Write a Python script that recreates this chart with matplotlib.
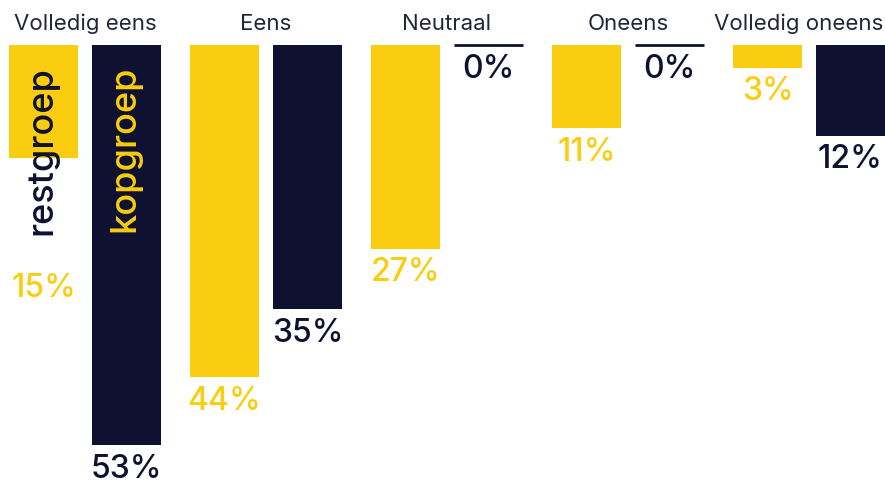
import matplotlib
matplotlib.use("Agg")
from matplotlib import pyplot as plt
import numpy as np

plt.rcParams['font.family'] = ['Inter', 'DejaVu Sans']

categories = ["Volledig eens", "Eens", "Neutraal", "Oneens", "Volledig oneens"]
restgroep = [15, 44, 27, 11, 3]
kopgroep = [53, 35, 0, 0, 12]
series_names = ["restgroep", "kopgroep"]

YELLOW = "#FACD10"
NAVY = "#0E1230"

fig = plt.figure(figsize=(8.85, 4.81), dpi=100)
ax = fig.add_axes([0, 0, 1, 1])

x = np.arange(len(categories))
w = 0.381
off = 0.229

series = [(restgroep, -off, YELLOW, NAVY), (kopgroep, off, NAVY, YELLOW)]

for vals, dx, col, txtcol in series:
    for xi, v in zip(x, vals):
        if v == 0:
            # empty bar -> just a thin line at the top
            ax.bar(xi + dx, 0, width=w, bottom=0, color=col, edgecolor=col, linewidth=2)
        else:
            ax.bar(xi + dx, v, width=w, bottom=0, color=col, linewidth=0)

# series names written in the first group
name_end = 30  # label of restgroep in first column pushed below the name
for (vals, dx, col, txtcol), name in zip(series, series_names):
    ax.text(x[0] + dx - 0.01, 2.6, name, rotation=90, ha="center", va="top",
            color=txtcol if vals[0] > 25 else NAVY, fontsize=26, fontweight="medium")

# value labels
for vals, dx, col, txtcol in series:
    for i, (xi, v) in enumerate(zip(x, vals)):
        y = v + 1.0
        if i == 0 and v < name_end:
            y = name_end
        ax.text(xi + dx, y, "%d%%" % v, ha="center", va="top", color=col,
                fontsize=23, fontweight="medium")

ax.set_xlim(-0.4696, 4.42)
ax.set_ylim(57.6, -6.09)

# category titles (last one kept inside the right edge)
for i, (xi, c) in enumerate(zip(x, categories)):
    if i == len(categories) - 1:
        ax.text(ax.get_xlim()[1] - 0.01, -2.9, c, ha="right", va="center",
                color="#22243A", fontsize=16)
    else:
        ax.text(xi, -2.9, c, ha="center", va="center", color="#22243A", fontsize=16)

ax.axis("off")

fig.savefig("out.png", dpi=100)
